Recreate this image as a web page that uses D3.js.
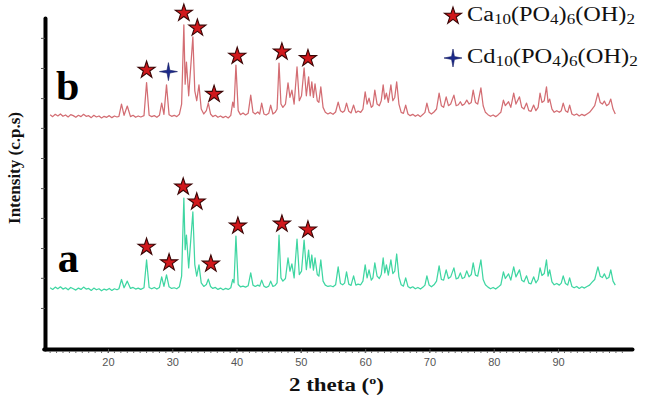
<!DOCTYPE html>
<html><head><meta charset="utf-8">
<script src="https://cdn.jsdelivr.net/npm/d3@7"></script>
<style>html,body{margin:0;padding:0;background:#fff;} svg{display:block;}</style>
</head><body><svg id="c" width="645" height="400"></svg>
<script>
// ---- data ----
const twoTheta = [
11.0,11.4,11.8,12.2,12.6,13.0,13.4,13.8,14.2,14.6,
15.0,15.4,15.8,16.2,16.6,17.0,17.4,17.8,18.2,18.6,
19.0,19.4,19.8,20.2,20.6,21.0,21.4,21.7,22.1,22.5,
23.0,23.5,23.9,24.3,24.7,25.1,25.6,26.0,26.4,26.8,
27.2,27.6,28.0,28.35,28.7,29.1,29.5,29.9,30.3,30.7,
31.1,31.45,31.8,32.0,32.2,32.55,33.2,33.5,33.8,34.15,
34.5,34.9,35.3,35.6,35.95,36.3,36.7,37.1,37.5,37.9,
38.3,38.7,39.1,39.4,39.6,39.9,40.25,40.6,41.0,41.4,
41.8,42.2,42.55,42.9,43.3,43.6,43.9,44.25,44.6,45.0,
45.3,45.65,46.0,46.3,46.6,46.9,47.2,47.6,48.0,48.3,
48.6,48.95,49.4,49.75,50.1,50.5,50.85,51.2,51.45,51.7,
51.95,52.2,52.55,52.8,53.1,53.45,53.8,54.2,54.6,55.0,
55.4,55.8,56.15,56.5,56.8,57.1,57.45,57.8,58.2,58.55,
58.9,59.3,59.65,60.0,60.3,60.6,60.95,61.2,61.5,61.85,
62.2,62.5,62.8,63.05,63.3,63.6,64.0,64.3,64.6,64.9,
65.25,65.6,65.95,66.3,66.65,67.0,67.4,67.8,68.2,68.6,
69.0,69.3,69.6,69.95,70.3,70.7,71.1,71.5,71.85,72.2,
72.6,72.95,73.3,73.8,74.15,74.5,74.8,75.1,75.45,75.8,
76.15,76.5,76.8,77.15,77.5,78.0,78.35,78.7,79.1,79.5,
79.9,80.3,80.7,81.1,81.5,81.8,82.3,82.65,83.1,83.45,
84.0,84.35,84.7,85.1,85.45,85.8,86.2,86.55,86.9,87.2,
87.5,87.85,88.2,88.45,88.7,89.05,89.4,89.8,90.2,90.5,
90.8,91.15,91.5,91.8,92.15,92.5,92.9,93.3,93.7,94.1,
94.5,94.9,95.3,95.7,96.2,96.55,96.9,97.2,97.55,97.9,
98.2,98.55,98.9];

const intensityB = [
70.8,70.2,70.9,70.4,71.0,70.3,70.7,70.1,70.8,70.5,
70.0,70.6,70.2,70.9,70.3,70.5,69.9,70.6,70.1,70.4,
69.8,70.3,70.0,70.5,69.9,70.4,70.1,70.3,74.0,70.6,
73.4,70.2,70.6,70.0,70.4,70.1,70.5,80.5,70.6,70.2,
70.5,70.0,70.6,74.3,70.9,79.8,70.8,70.3,70.6,70.2,
70.9,74.0,97.9,80.0,86.7,76.5,94.3,78.0,75.0,79.8,
72.5,71.0,72.0,74.3,71.0,70.2,70.6,70.0,70.4,69.9,
70.3,69.8,70.6,74.6,73.0,85.8,72.0,70.8,71.3,70.7,
71.2,76.7,71.5,71.0,71.6,71.0,74.3,71.0,70.7,71.2,
73.7,71.0,71.5,72.5,86.4,74.0,73.0,74.0,80.4,76.0,
78.2,74.0,85.2,75.0,76.5,84.9,76.5,82.2,76.5,80.7,
76.0,80.1,75.0,74.5,79.2,73.0,71.5,71.0,71.4,70.9,
71.6,74.6,72.0,71.5,72.0,74.3,71.8,71.3,73.7,71.4,
71.9,71.5,72.5,77.7,74.0,75.8,73.0,73.5,78.2,74.0,
73.5,75.0,79.8,75.5,77.3,74.5,79.8,75.0,76.0,80.7,
74.0,71.5,71.2,73.7,71.0,70.5,70.9,70.3,70.8,70.2,
70.9,71.5,74.3,71.5,71.0,71.6,72.5,77.3,73.5,73.0,
76.2,73.5,74.0,76.7,73.5,73.8,74.7,73.6,74.0,75.2,
74.0,74.5,78.2,74.5,74.0,78.9,73.5,71.5,70.8,70.3,
70.7,70.2,70.8,71.5,75.2,73.5,74.7,73.0,77.3,74.0,
76.2,73.0,72.5,74.3,72.0,71.8,73.7,72.0,73.0,77.3,
74.5,75.0,79.2,74.5,75.5,72.5,71.5,72.0,71.5,72.0,
74.3,72.0,71.5,73.7,71.0,70.6,71.0,70.4,70.9,70.5,
71.0,71.5,72.5,73.5,77.3,74.5,74.0,74.9,73.5,74.0,
75.5,72.5,71.0];

const intensityA = [
18.5,18.0,18.7,18.2,18.8,18.1,18.5,17.9,18.6,18.2,
17.8,18.4,18.0,18.7,18.1,18.3,17.7,18.4,17.9,18.2,
17.6,18.1,17.8,18.3,17.7,18.2,17.9,18.2,21.0,18.5,
20.5,18.3,18.6,18.1,18.4,18.0,18.5,26.9,18.6,18.2,
18.6,18.1,18.6,21.8,18.9,22.4,18.8,18.3,18.5,18.2,
18.8,22.0,45.6,30.0,34.4,24.5,41.4,25.5,22.0,25.4,
20.0,18.9,19.5,21.1,18.9,18.3,18.6,18.0,18.4,17.9,
18.3,18.0,18.5,21.0,20.0,34.1,19.5,18.8,19.0,18.7,
19.1,23.0,19.3,18.9,19.3,19.0,20.8,19.0,18.6,19.0,
20.5,18.9,19.2,20.0,34.4,21.5,20.5,21.3,27.5,23.5,
25.7,21.5,33.2,22.5,23.5,32.9,24.0,29.9,24.5,28.4,
23.8,27.5,22.5,22.0,26.9,20.5,19.3,18.9,19.1,18.8,
19.4,24.8,19.8,19.4,19.9,23.3,19.6,19.2,22.1,19.3,
19.6,19.4,20.5,25.4,21.5,23.9,20.8,21.5,26.0,22.0,
21.3,22.5,27.5,23.0,25.4,22.3,26.9,22.8,23.5,28.7,
21.8,19.4,19.0,21.5,18.9,18.4,18.8,18.2,18.6,18.1,
18.7,19.3,22.1,19.3,18.8,19.4,20.5,25.1,21.0,20.8,
23.9,21.3,21.8,24.5,21.2,21.5,23.0,21.3,21.6,23.6,
21.8,22.5,26.0,22.3,22.0,26.9,21.0,19.4,18.7,18.2,
18.6,18.1,18.7,19.4,23.3,21.3,22.7,20.8,24.8,21.8,
23.9,20.8,20.3,22.1,19.9,19.7,21.8,20.0,21.0,24.5,
22.2,22.8,26.9,22.0,23.9,20.3,19.4,19.8,19.3,19.9,
22.1,19.8,19.3,21.5,18.9,18.5,18.9,18.3,18.8,18.4,
18.9,19.3,20.2,21.0,24.8,22.0,21.6,22.7,21.2,21.6,
23.9,20.5,19.3];

const xTicks = [20, 30, 40, 50, 60, 70, 80, 90];
const xMinorTicks = d3.range(11, 101, 1);
const yTicks = [94.0, 84.9, 75.8, 66.8, 57.7, 48.6, 39.6, 30.5, 21.5, 12.4];

// phase markers [2theta, intensity]
const caMarkersB = [[26.0,84.3],[31.8,101.5],[33.9,97.0],[36.5,77.0],[40.1,88.5],[47.05,89.8],[51.1,87.8]];
const cdMarkersB = [[29.4,83.8]];
const caMarkersA = [[26.0,30.8],[29.5,26.1],[31.7,49.0],[33.8,44.5],[36.0,25.7],[40.2,37.2],[47.05,37.8],[51.1,36.0]];
const seriesNames = ["b", "a"];
const seriesLabelPos = [[11.9, 75.2], [12.2, 23.3]];
const legendNames = [["Ca","10","(PO","4",")","6","(OH)","2"], ["Cd","10","(PO","4",")","6","(OH)","2"]];

// ---- drawing ----
const svg = d3.select("#c");
const x = d3.scaleLinear().domain([10, 101.5]).range([43.7, 632]);
const y = d3.scaleLinear().domain([0, 100]).range([349, 18]);

const SERIF = "'Liberation Serif','Times New Roman',serif";

function fitX(sel, x0, w) {
  const bb = sel.node().getBBox();
  const s = w / bb.width;
  sel.attr("transform", `translate(${x0},0) scale(${s},1) translate(${-x0},0)`);
}

const line = d3.line().x(d => x(d[0])).y(d => y(d[1]));
const dataB = twoTheta.map((t, i) => [t, intensityB[i]]);
const dataA = twoTheta.map((t, i) => [t, intensityA[i]]);

svg.append("path").datum(dataB).attr("d", line)
  .attr("fill", "none").attr("stroke", "#d36d73").attr("stroke-width", 1.25).attr("stroke-linejoin", "round");
svg.append("path").datum(dataA).attr("d", line)
  .attr("fill", "none").attr("stroke", "#3fd6a2").attr("stroke-width", 1.25).attr("stroke-linejoin", "round");

// axes
const gx = svg.append("g").attr("transform", `translate(0,${y(0)})`)
  .call(d3.axisBottom(x).tickValues(xTicks).tickSize(4).tickSizeOuter(0).tickPadding(5));
gx.select(".domain").attr("stroke", "#000").attr("stroke-width", 4).attr("stroke-linecap", "round");
gx.selectAll(".tick line").attr("stroke", "#555");
gx.selectAll("text").attr("font-family", "'Liberation Sans',Arial,sans-serif").attr("font-size", 11).attr("fill", "#555");
svg.append("g").selectAll("line").data(xMinorTicks).join("line")
  .attr("x1", d => x(d)).attr("x2", d => x(d)).attr("y1", y(0) + 2).attr("y2", y(0) + 4)
  .attr("stroke", "#666").attr("stroke-width", 1);

const gy = svg.append("g").attr("transform", `translate(${x(10.2)},0)`)
  .call(d3.axisLeft(y).tickValues(yTicks).tickSize(4).tickSizeOuter(0).tickFormat(""));
gy.select(".domain").attr("stroke", "#000").attr("stroke-width", 4).attr("stroke-linecap", "round");
gy.selectAll(".tick line").attr("stroke", "#555");

// markers
const starPath = d3.symbol().type(d3.symbolStar).size(90)();
function cross4(r, ri) {
  let p = "";
  for (let k = 0; k < 8; k++) {
    const a = -Math.PI / 2 + k * Math.PI / 4;
    const rr = k % 2 === 0 ? r : ri;
    p += (k === 0 ? "M" : "L") + (rr * Math.cos(a)).toFixed(2) + "," + (rr * Math.sin(a)).toFixed(2);
  }
  return p + "Z";
}
const crossPath = cross4(9, 2);
svg.append("g").selectAll("path").data(caMarkersB.concat(caMarkersA)).join("path")
  .attr("d", starPath).attr("transform", d => `translate(${x(d[0])},${y(d[1])})`)
  .attr("fill", "#d0181c").attr("stroke", "#3a0505").attr("stroke-width", 1.1);
svg.append("g").selectAll("path").data(cdMarkersB).join("path")
  .attr("d", crossPath).attr("transform", d => `translate(${x(d[0])},${y(d[1])})`)
  .attr("fill", "#1c2a8c").attr("stroke", "#101a60").attr("stroke-width", 0.6);

// series labels
seriesNames.forEach((n, i) => {
  svg.append("text").attr("x", x(seriesLabelPos[i][0])).attr("y", y(seriesLabelPos[i][1]))
    .attr("font-family", SERIF).attr("font-weight", "bold").attr("font-size", 42).attr("fill", "#000").text(n);
});

// legend
const legendY = [21, 63];
legendNames.forEach((parts, i) => {
  const ly = legendY[i];
  svg.append("path").attr("d", i === 0 ? starPath : crossPath)
    .attr("transform", `translate(453,${ly - 5})`)
    .attr("fill", i === 0 ? "#d0181c" : "#1c2a8c")
    .attr("stroke", i === 0 ? "#3a0505" : "#101a60").attr("stroke-width", i === 0 ? 1.1 : 0.6);
  const t = svg.append("text").attr("x", 467).attr("y", ly)
    .attr("font-family", SERIF).attr("font-size", 20).attr("fill", "#111");
  parts.forEach((p, k) => {
    const sub = k % 2 === 1;
    t.append("tspan").attr("font-size", sub ? 14 : 20).attr("dy", k === 0 ? 0 : (sub ? 3 : -3)).text(p);
  });
  fitX(t, 467, i === 0 ? 168 : 171);
});

// axis titles
const xt = svg.append("text").attr("x", 289).attr("y", 391)
  .attr("font-family", SERIF).attr("font-weight", "bold").attr("font-size", 18).attr("fill", "#111");
xt.append("tspan").text("2 theta (");
xt.append("tspan").attr("font-size", 11).attr("dy", -7).text("o");
xt.append("tspan").attr("dy", 7).text(")");
fitX(xt, 289, 95);

const yt = svg.append("text").attr("text-anchor", "middle")
  .attr("font-family", SERIF).attr("font-weight", "bold").attr("font-size", 16).attr("fill", "#111")
  .text("Intensity (c.p.s)");
const ytw = yt.node().getBBox().width;
yt.attr("transform", `translate(20,168) rotate(-90) scale(${112 / ytw},1)`);
</script></body></html>
